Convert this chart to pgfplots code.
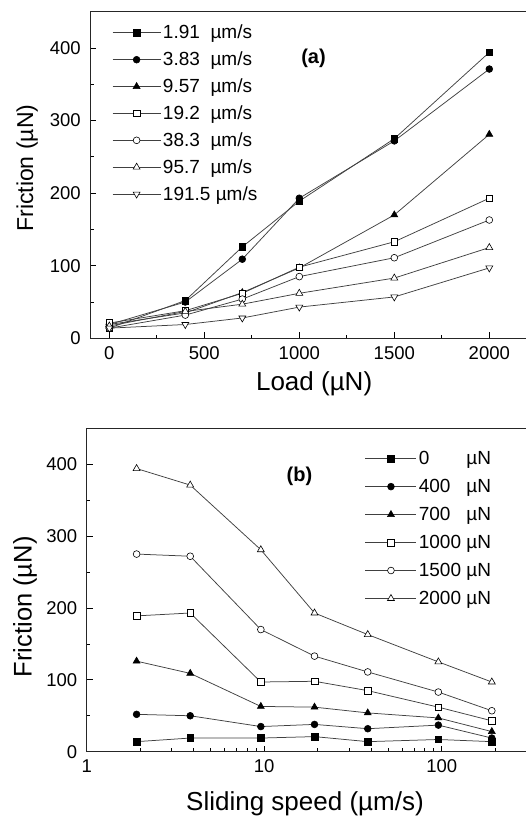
\documentclass[border=0pt]{standalone}
\usepackage{fontspec}
\setmainfont{Liberation Sans}
\usepackage{pgfplots}
\pgfplotsset{compat=1.18}
\begin{document}
\begin{tikzpicture}
\path[use as bounding box] (0,0) rectangle (526pt,-818pt);
\pgfplotsset{
  common/.style={
    scale only axis,
    axis line style={line width=1.1pt, black!85},
    tick align=inside,
    xtick pos=bottom, ytick pos=left,
    major tick length=6pt, minor tick length=3.5pt,
    every tick/.style={black, line width=0.8pt},
    /pgf/number format/assume math mode=true,
    /pgf/number format/1000 sep={},
    scaled x ticks=false, scaled y ticks=false,
    tick label style={font=\fontsize{18.5}{22}\selectfont},
    xticklabel style={yshift=-4.5pt},
    yticklabel style={xshift=-6pt},
    ymin=0, ymax=450,
    ytick={0,100,200,300,400},
    minor ytick={50,150,250,350},
    legend style={draw=none, fill=none, font=\fontsize{19}{22}\selectfont},
    legend cell align=left,
  },
  LA/.style={legend image code/.code={\draw[mark repeat=2,mark phase=2,##1] plot coordinates {(0pt,0pt) (24pt,0pt) (48pt,0pt)};}},
  LB/.style={legend image code/.code={\draw[mark repeat=2,mark phase=2,##1] plot coordinates {(0pt,0pt) (25.5pt,0pt) (51pt,0pt)};}},
  ln/.style={line width=0.75pt, color=black!75},
  sA/.style={ln, mark=square*, mark size=3.3pt, mark options={draw=black, fill=black, solid, line width=0.6pt}},
  sB/.style={ln, mark=*, mark size=3.4pt, mark options={draw=black, fill=black, solid, line width=0.6pt}},
  sC/.style={ln, mark=triangle*, mark size=4pt, mark options={draw=black, fill=black, solid, line width=0.6pt}},
  sD/.style={ln, mark=square*, mark size=3.3pt, mark options={draw=black, fill=white, solid, line width=0.6pt}},
  sE/.style={ln, mark=*, mark size=3.4pt, mark options={draw=black, fill=white, solid, line width=0.6pt}},
  sF/.style={ln, mark=triangle*, mark size=4pt, mark options={draw=black, fill=white, solid, line width=0.6pt}},
  sG/.style={ln, mark=triangle*, mark size=4pt, mark options={draw=black, fill=white, solid, line width=0.6pt, rotate=180}},
}
% ---------------- panel (a) ----------------
\begin{axis}[common,
  at={(90.3pt,-338.3pt)}, anchor=south west,
  width=438.9pt, height=326.6pt,
  xmin=-100, xmax=2210,
  xtick={0,500,1000,1500,2000},
  minor xtick={250,750,1250,1750},
  xlabel={Load (µN)},
  ylabel={Friction (µN)},
  xlabel style={at={(axis description cs:0.51,-0.161)}, anchor=base, font=\fontsize{26}{30}\selectfont},
  ylabel style={at={(axis description cs:-0.13,0.521)}, anchor=base, font=\fontsize{23}{27}\selectfont},
  legend style={at={(0.0427,0.9715)}, anchor=north west, row sep=7.6pt},
]
\addplot[sA, LA] coordinates {(0,14) (400,52) (700,126) (1000,189) (1500,275) (2000,394)};
\addlegendentry{1.91\ \ µm/s}
\addplot[sB, LA] coordinates {(0,19) (400,50) (700,109) (1000,193) (1500,272) (2000,371)};
\addlegendentry{3.83\ \ µm/s}
\addplot[sC, LA] coordinates {(0,19) (400,35) (700,63) (1000,97) (1500,170) (2000,281)};
\addlegendentry{9.57\ \ µm/s}
\addplot[sD, LA] coordinates {(0,21) (400,38) (700,62) (1000,98) (1500,133) (2000,193)};
\addlegendentry{19.2\ \ µm/s}
\addplot[sE, LA] coordinates {(0,14) (400,32) (700,54) (1000,85) (1500,111) (2000,163)};
\addlegendentry{38.3\ \ µm/s}
\addplot[sF, LA] coordinates {(0,17) (400,37) (700,47) (1000,62) (1500,83) (2000,125)};
\addlegendentry{95.7\ \ µm/s}
\addplot[sG, LA] coordinates {(0,14) (400,19) (700,28) (1000,43) (1500,57) (2000,97)};
\addlegendentry{191.5 µm/s}
\node[font=\bfseries\fontsize{20}{24}\selectfont] at (axis description cs:0.5086,0.858) {(a)};
\end{axis}
% ---------------- panel (b) ----------------
\begin{axis}[common,
  at={(86.7pt,-751.7pt)}, anchor=south west,
  width=441pt, height=323.4pt,
  xmode=log, xmin=1, xmax=305,
  xtick={1,10,100}, xticklabels={1,10,100},
  minor xtick={2,3,4,5,6,7,8,9,20,30,40,50,60,70,80,90,200,300},
  xlabel={Sliding speed (µm/s)},
  ylabel={Friction (µN)},
  xlabel style={at={(axis description cs:0.495,-0.183)}, anchor=base, font=\fontsize{26}{30}\selectfont},
  ylabel style={at={(axis description cs:-0.125,0.448)}, anchor=base, font=\fontsize{25.5}{30}\selectfont},
  legend style={at={(0.624,0.942)}, anchor=north west, row sep=9.2pt},
]
\addplot[sA, LB] coordinates {(1.91,14) (3.83,19) (9.57,19) (19.2,21) (38.3,14) (95.7,17) (191.5,14)};
\addlegendentry{\makebox[2.502em][l]{0}µN}
\addplot[sB, LB] coordinates {(1.91,52) (3.83,50) (9.57,35) (19.2,38) (38.3,32) (95.7,37) (191.5,19)};
\addlegendentry{\makebox[2.502em][l]{400}µN}
\addplot[sC, LB] coordinates {(1.91,126) (3.83,109) (9.57,63) (19.2,62) (38.3,54) (95.7,47) (191.5,28)};
\addlegendentry{\makebox[2.502em][l]{700}µN}
\addplot[sD, LB] coordinates {(1.91,189) (3.83,193) (9.57,97) (19.2,98) (38.3,85) (95.7,62) (191.5,43)};
\addlegendentry{\makebox[2.502em][l]{1000}µN}
\addplot[sE, LB] coordinates {(1.91,275) (3.83,272) (9.57,170) (19.2,133) (38.3,111) (95.7,83) (191.5,57)};
\addlegendentry{\makebox[2.502em][l]{1500}µN}
\addplot[sF, LB] coordinates {(1.91,394) (3.83,371) (9.57,281) (19.2,193) (38.3,163) (95.7,125) (191.5,97)};
\addlegendentry{\makebox[2.502em][l]{2000}µN}
\node[font=\bfseries\fontsize{20}{24}\selectfont] at (axis description cs:0.4825,0.850) {(b)};
\end{axis}
\end{tikzpicture}
\end{document}
